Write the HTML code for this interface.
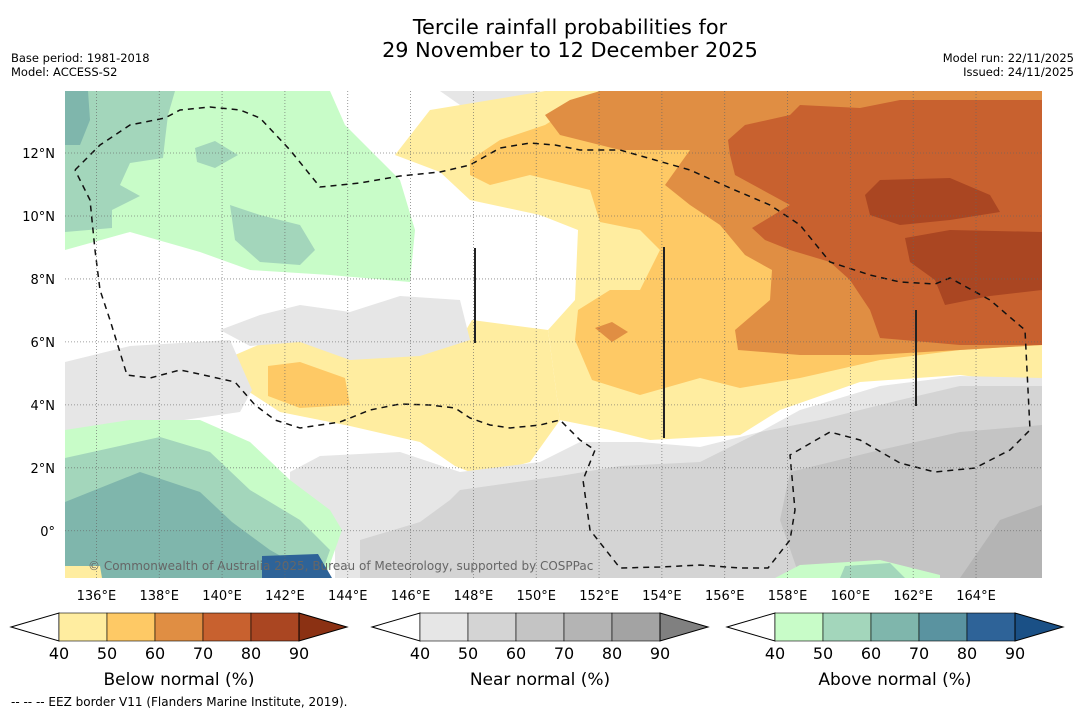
<!DOCTYPE html>
<html><head><meta charset="utf-8"><style>
body{margin:0;background:#fff;width:1085px;height:713px;overflow:hidden;font-family:"DejaVu Sans","Liberation Sans",sans-serif;}
svg{position:absolute;left:0;top:0}
</style></head><body>
<svg id="s" width="1085" height="713" xmlns="http://www.w3.org/2000/svg">
<text x="570" y="34" font-size="20.8" text-anchor="middle">Tercile rainfall probabilities for</text>
<text x="570" y="57" font-size="20.8" text-anchor="middle">29 November to 12 December 2025</text>
<text x="11" y="62" font-size="11.5">Base period: 1981-2018</text>
<text x="11" y="76" font-size="11.5">Model: ACCESS-S2</text>
<text x="1074" y="62" font-size="11.5" text-anchor="end">Model run: 22/11/2025</text>
<text x="1074" y="76" font-size="11.5" text-anchor="end">Issued: 24/11/2025</text>
<defs><clipPath id="mc"><rect x="65" y="91" width="977" height="487"/></clipPath></defs>
<g id="map" clip-path="url(#mc)"></g>
<g id="axes"></g>
<g id="bars"></g>
<text x="11" y="706" font-size="12">--  --  -- EEZ border V11 (Flanders Marine Institute, 2019).</text>
</svg>
<script>
const NS="http://www.w3.org/2000/svg";
// map extent
const lonMin=135,lonMax=166.1,latMin=-1.5,latMax=13.97;
const lonTicks=[136,138,140,142,144,146,148,150,152,154,156,158,160,162,164];
const latTicks=[0,2,4,6,8,10,12];
const latLabels=["0°","2°N","4°N","6°N","8°N","10°N","12°N"];
// category colours
const belowColors=["#ffeda0","#fec965","#e08e43","#c8612f","#aa4622","#8b3113"];
const nearColors=["#e6e6e6","#d4d4d4","#c4c4c4","#b4b4b4","#a3a3a3","#808080"];
const aboveColors=["#c8fcc8","#a3d6bb","#7fb6ac","#5a93a0","#2e6398","#1a5086"];
const cbTicks=["40","50","60","70","80","90"];
const cbTitles=["Below normal (%)","Near normal (%)","Above normal (%)"];
// contour regions in map-grid coordinates (projected image units)
const regions=[
 ["a",0,[[65,91],[330,91],[345,125],[400,180],[415,230],[410,282],[330,275],[250,270],[200,252],[130,232],[65,250]]],
 ["a",1,[[65,91],[175,91],[168,115],[165,140],[163,158],[130,163],[120,185],[140,196],[112,210],[112,228],[65,232]]],
 ["a",1,[[230,205],[260,215],[300,225],[315,250],[300,265],[260,262],[235,240]]],
 ["a",1,[[195,148],[215,141],[238,155],[215,168],[197,162]]],
 ["a",2,[[65,91],[88,91],[90,120],[80,145],[65,145]]],
 ["n",0,[[440,91],[540,91],[545,105],[500,110],[460,105]]],
 ["b",0,[[395,155],[430,110],[545,91],[1042,91],[1042,385],[960,375],[860,382],[780,410],[740,435],[650,440],[610,430],[560,420],[548,330],[575,300],[578,230],[540,215],[470,200],[440,172]]],
 ["b",0,[[235,355],[270,340],[380,345],[460,340],[472,320],[548,330],[560,420],[530,462],[480,476],[455,466],[420,442],[350,426],[280,412],[240,386]]],
 ["b",1,[[470,160],[500,140],[545,125],[600,91],[1042,91],[1042,345],[960,350],[880,360],[800,378],[740,388],[700,378],[640,395],[592,380],[575,340],[578,310],[610,290],[640,290],[660,250],[640,230],[600,222],[590,190],[530,175],[490,185],[470,175]]],
 ["b",1,[[268,366],[300,362],[345,378],[350,405],[300,408],[268,396]]],
 ["b",2,[[545,115],[570,100],[600,91],[1042,91],[1042,345],[960,350],[870,355],[800,355],[738,350],[735,330],[770,300],[772,270],[745,255],[720,225],[690,205],[665,185],[690,150],[620,150],[560,135]]],
 ["b",2,[[595,328],[612,322],[628,332],[612,342]]],
 ["b",3,[[728,140],[745,125],[790,115],[800,105],[860,108],[900,100],[1042,100],[1042,345],[960,345],[880,338],[870,310],[850,280],[830,262],[790,250],[765,240],[752,228],[790,205],[735,175],[730,155]]],
 ["b",4,[[865,195],[880,180],[950,178],[990,195],[1000,212],[950,220],[900,225],[870,215]]],
 ["b",4,[[905,238],[950,230],[1042,232],[1042,290],[990,296],[945,305],[935,280],[910,262]]],
 ["n",0,[[65,362],[130,346],[230,340],[252,390],[240,412],[170,422],[100,437],[65,440]]],
 ["n",0,[[220,330],[260,315],[300,305],[350,312],[400,296],[460,300],[470,340],[420,356],[350,360],[300,342],[250,346]]],
 ["n",0,[[290,472],[320,456],[400,452],[460,472],[540,462],[580,442],[640,442],[700,447],[760,432],[800,410],[880,386],[960,376],[1042,378],[1042,578],[335,578],[335,530],[290,500]]],
 ["n",1,[[460,490],[560,476],[620,466],[700,462],[760,432],[820,420],[900,400],[960,386],[1042,386],[1042,578],[360,578],[360,540],[420,522],[450,500]]],
 ["n",2,[[790,472],[880,450],[960,432],[1042,425],[1042,578],[800,578],[780,520]]],
 ["n",3,[[1000,520],[1042,505],[1042,578],[960,578]]],
 ["a",0,[[65,430],[130,420],[200,420],[250,442],[290,480],[330,510],[342,530],[325,578],[65,578]]],
 ["a",1,[[65,458],[160,437],[210,452],[250,490],[300,520],[330,550],[320,578],[65,578]]],
 ["a",2,[[65,502],[140,472],[200,492],[232,522],[270,550],[320,578],[65,578]]],
 ["a",4,[[262,556],[318,554],[332,578],[262,578]]],
 ["b",0,[[65,566],[100,566],[102,578],[65,578]]],
 ["a",0,[[775,578],[800,565],[880,560],[940,575],[940,578]]],
 ["a",1,[[845,566],[890,563],[905,578],[840,578]]]
];
// EEZ boundary (map-grid coordinates)
const eez=[[75,170],[100,145],[130,125],[165,118],[180,110],[210,107],[240,110],[260,118],[290,150],[320,187],[360,183],[400,176],[440,172],[470,165],[500,148],[530,143],[555,145],[580,150],[620,150],[655,160],[690,170],[730,188],[770,205],[800,225],[830,262],[870,275],[900,282],[935,284],[950,278],[990,300],[1025,330],[1030,430],[1010,450],[975,468],[935,472],[900,463],[860,440],[830,432],[790,455],[795,510],[790,540],[768,568],[740,568],[700,565],[660,567],[620,568],[590,530],[583,480],[595,450],[580,440],[560,420],[540,425],[510,428],[490,425],[470,418],[455,408],[430,405],[400,404],[370,410],[340,422],[300,428],[275,420],[255,405],[235,382],[190,372],[180,370],[150,378],[127,375],[110,320],[100,290],[95,250],[90,200],[75,170]];
const blines=[[475,248,343],[664,247,438],[916,310,406]];

const X0=65,X1=1042,Y0=91,Y1=578;
const px=lon=>X0+(lon-lonMin)/(lonMax-lonMin)*(X1-X0);
const py=lat=>Y1-(lat-latMin)/(latMax-latMin)*(Y1-Y0);
function mk(t,a,p){const e=document.createElementNS(NS,t);for(const k in a)e.setAttribute(k,a[k]);(p||document.getElementById('s')).appendChild(e);return e;}
const map=document.getElementById('map');
const pal={a:aboveColors,b:belowColors,n:nearColors};
regions.forEach((r,i)=>{
 const e=mk('polygon',{points:r[2].map(p=>p.join(',')).join(' '),fill:pal[r[0]][r[1]]},map);
 
 
});
const ax=document.getElementById('axes');
lonTicks.forEach(l=>{
 const x=px(l);
 const g=mk('line',{x1:x,x2:x,y1:Y0,y2:Y1,stroke:'#666','stroke-width':0.8,'stroke-dasharray':'1,2',opacity:0.8},ax);
 
 
 const t=mk('text',{x:x,y:600,'font-size':13,'text-anchor':'middle'},ax);t.textContent=l+'°E';
 
 
});
latTicks.forEach((l,i)=>{
 const y=py(l);
 const g=mk('line',{x1:X0,x2:X1,y1:y,y2:y,stroke:'#666','stroke-width':0.8,'stroke-dasharray':'1,2',opacity:0.8},ax);
 
 
 const t=mk('text',{x:55,y:y+5,'font-size':13,'text-anchor':'end'},ax);t.textContent=latLabels[i];
 
 
});
const ez=mk('polyline',{points:eez.map(p=>p.join(',')).join(' '),fill:'none',stroke:'#111','stroke-width':1.5,'stroke-dasharray':'6,5'},map);


blines.forEach(b=>{const l=mk('line',{x1:b[0],x2:b[0],y1:b[1],y2:b[2],stroke:'#222','stroke-width':2},map);
 
 });
const cr=mk('text',{x:88,y:570,'font-size':12,fill:'#666'},map);cr.textContent='© Commonwealth of Australia 2025, Bureau of Meteorology, supported by COSPPac';


// colorbars
const bars=document.getElementById('bars');
const cbs=[[belowColors,11],[nearColors,372],[aboveColors,727]];
cbs.forEach((c,ci)=>{
 const x0=c[1],bw=48,y0=613,y1=641,ym=627;
 const g=mk('g',{},bars);
 
 
 mk('polygon',{points:`${x0},${ym} ${x0+bw},${y0} ${x0+bw},${y1}`,fill:'#fff',stroke:'#000','stroke-width':1},g);
 c[0].slice(0,5).forEach((col,i)=>{mk('rect',{x:x0+bw*(i+1),y:y0,width:bw,height:y1-y0,fill:col,stroke:'#000','stroke-width':0.6},g);});
 mk('polygon',{points:`${x0+bw*6},${y0} ${x0+bw*7},${ym} ${x0+bw*6},${y1}`,fill:c[0][5],stroke:'#000','stroke-width':1},g);
 cbTicks.forEach((t,i)=>{const e=mk('text',{x:x0+bw*(i+1),y:659,'font-size':16,'text-anchor':'middle'},g);e.textContent=t;});
 const tt=mk('text',{x:x0+bw*3.5,y:685,'font-size':17,'text-anchor':'middle'},g);tt.textContent=cbTitles[ci];
});
</script>
</body></html>
